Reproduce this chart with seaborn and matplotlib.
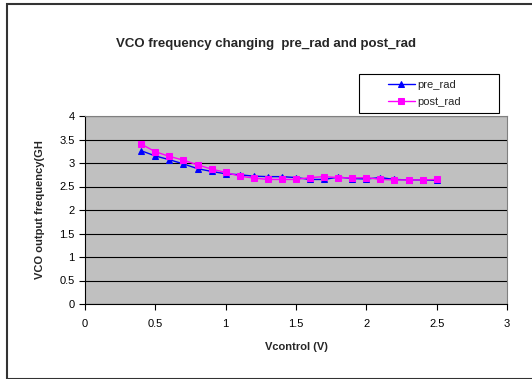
import matplotlib
matplotlib.use("Agg")
import matplotlib.pyplot as plt
import seaborn as sns
import pandas as pd
from matplotlib.patches import Rectangle

vcontrol = [0.4, 0.5, 0.6, 0.7, 0.8, 0.9, 1.0, 1.1, 1.2, 1.3, 1.4,
            1.5, 1.6, 1.7, 1.8, 1.9, 2.0, 2.1, 2.2, 2.3, 2.4, 2.5]
pre_rad = [3.26, 3.15, 3.07, 2.98, 2.88, 2.82, 2.77, 2.75, 2.72, 2.71, 2.71,
           2.69, 2.65, 2.65, 2.70, 2.67, 2.66, 2.69, 2.65, 2.64, 2.64, 2.63]
post_rad = [3.40, 3.24, 3.14, 3.06, 2.96, 2.87, 2.80, 2.72, 2.68, 2.65, 2.65,
            2.65, 2.69, 2.71, 2.69, 2.68, 2.69, 2.65, 2.64, 2.64, 2.64, 2.65]

sns.set_style("white")
plt.rcParams["font.family"] = ["Liberation Sans", "DejaVu Sans"]

W, H = 532, 379
fig = plt.figure(figsize=(W / 100, H / 100), dpi=100)
ax = fig.add_axes([85 / W, 1 - 304 / H, 422 / W, 188 / H])
ax.set_facecolor("#c0c0c0")

sns.lineplot(x=vcontrol, y=pre_rad, ax=ax, color="#0000ff", marker="^",
             markersize=4.5, markeredgecolor="#0000ff", lw=1, label="pre_rad")
sns.lineplot(x=vcontrol, y=post_rad, ax=ax, color="#ff00ff", marker="s",
             markersize=4, markeredgecolor="#ff00ff", lw=1, label="post_rad")

ax.set_xlim(0, 3)
ax.set_ylim(0, 4)
ax.set_xticks([0, 0.5, 1, 1.5, 2, 2.5, 3])
ax.set_xticklabels(["0", "0.5", "1", "1.5", "2", "2.5", "3"])
ax.set_yticks([0, 0.5, 1, 1.5, 2, 2.5, 3, 3.5, 4])
ax.set_yticklabels(["0", "0.5", "1", "1.5", "2", "2.5", "3", "3.5", "4"])
ax.grid(axis="y", color="black", lw=0.8)
ax.set_axisbelow(True)
for side in ["top", "right"]:
    ax.spines[side].set_color("#808080")
for side in ["left", "bottom"]:
    ax.spines[side].set_color("black")
ax.tick_params(axis="both", labelsize=8, length=4, direction="out",
               colors="black", bottom=True, left=True)
ax.tick_params(axis="x", pad=7)

ax.set_xlabel("Vcontrol (V)", fontsize=8, fontweight="bold", labelpad=9)
ax.set_ylabel("VCO output frequency(GH", fontsize=8, fontweight="bold", labelpad=10)

# legend entries without frame, frame drawn as a box like the Excel one
leg = ax.legend(loc="center left", bbox_to_anchor=(388 / W, 1 - 93.5 / H),
                bbox_transform=fig.transFigure, fontsize=8, frameon=False,
                handlelength=2.4, handletextpad=0.2, borderpad=0,
                borderaxespad=0, labelspacing=0.65)
leg.set_zorder(10)
ax.add_patch(Rectangle((359 / W, 1 - 113 / H), 140 / W, 39 / H,
                       transform=fig.transFigure, facecolor="white",
                       edgecolor="black", lw=0.8, zorder=4, clip_on=False))

fig.text(266 / W, 1 - 44 / H, "VCO frequency changing  pre_rad and post_rad",
         ha="center", va="center", fontsize=9.5, fontweight="bold")

fig.patches.append(Rectangle((7 / W, 0.5 / H), 1.1, 1 - 4.5 / H,
                             transform=fig.transFigure, fill=False,
                             edgecolor="#333333", lw=1.5))

fig.savefig("out.png", dpi=100)
